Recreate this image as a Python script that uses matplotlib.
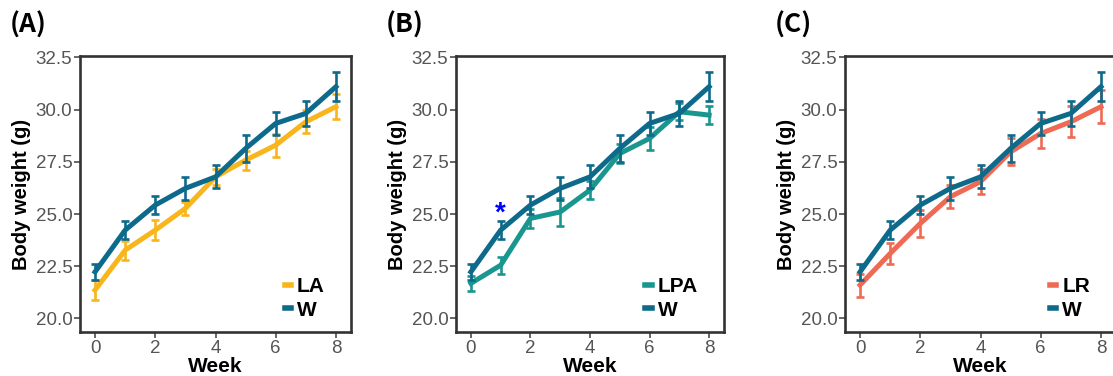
import matplotlib
matplotlib.use("Agg")
import matplotlib.pyplot as plt
from matplotlib.lines import Line2D

weeks = [0, 1, 2, 3, 4, 5, 6, 7, 8]

w_mean = [22.23, 24.23, 25.43, 26.23, 26.78, 28.14, 29.34, 29.82, 31.10]
w_err = [0.40, 0.42, 0.45, 0.55, 0.55, 0.65, 0.55, 0.60, 0.70]

la_mean = [21.36, 23.27, 24.23, 25.27, 26.78, 27.58, 28.30, 29.42, 30.14]
la_err = [0.50, 0.45, 0.48, 0.30, 0.40, 0.45, 0.55, 0.55, 0.60]

lpa_mean = [21.68, 22.55, 24.79, 25.10, 26.15, 27.90, 28.62, 29.90, 29.74]
lpa_err = [0.35, 0.40, 0.45, 0.65, 0.45, 0.45, 0.55, 0.40, 0.45]

lr_mean = [21.60, 23.11, 24.55, 25.83, 26.55, 27.98, 28.86, 29.42, 30.14]
lr_err = [0.55, 0.50, 0.65, 0.55, 0.60, 0.65, 0.70, 0.75, 0.80]

panel_labels = ["(A)", "(B)", "(C)"]
group_names = ["LA", "LPA", "LR"]
yticks = [20.0, 22.5, 25.0, 27.5, 30.0, 32.5]
xticks = [0, 2, 4, 6, 8]

star_week = 1
star_value = 25.33

c_w = "#0E6A8B"
group_colors = ["#F8B51C", "#19968F", "#EE6A55"]
groups = [(la_mean, la_err), (lpa_mean, lpa_err), (lr_mean, lr_err)]

plt.rcParams['font.family'] = ['Liberation Sans', 'DejaVu Sans']

fig = plt.figure(figsize=(11.13, 3.76), dpi=100)
W, H = 1113, 376
lefts = [80, 456, 845]
widths = [271, 268, 271]
top, bottom = 56, 332

for i in range(3):
    ax = fig.add_axes([lefts[i] / W, (H - bottom) / H, widths[i] / W, (bottom - top) / H])
    m, e = groups[i]
    ax.errorbar(weeks, m, yerr=e, color=group_colors[i], lw=3.6, elinewidth=1.9,
                capsize=3, capthick=1.9, zorder=2)
    ax.errorbar(weeks, w_mean, yerr=w_err, color=c_w, lw=3.6, elinewidth=1.9,
                capsize=3, capthick=1.9, zorder=3)
    ax.set_xlim(-0.5, 8.5)
    ax.set_ylim(19.35, 32.57)
    ax.set_xticks(xticks)
    ax.set_yticks(yticks)
    ax.set_yticklabels([f"{v:.1f}" for v in yticks])
    ax.tick_params(axis='both', colors='#4D4D4D', labelsize=13.5, length=4, width=1.2,
                   labelcolor='#555555', pad=1.5)
    for s in ax.spines.values():
        s.set_color('#333333')
        s.set_linewidth(1.9)
    ax.set_xlabel("Week", fontsize=15, fontweight='bold', labelpad=0)
    ax.set_ylabel("Body weight (g)", fontsize=14.5, fontweight='bold', labelpad=3)
    hs = [Line2D([0], [0], color=group_colors[i], lw=4), Line2D([0], [0], color=c_w, lw=4)]
    ax.legend(hs, [group_names[i], "W"], loc='lower right', bbox_to_anchor=(0.95, 0.0),
              frameon=False, handlelength=0.3, handletextpad=0.3, labelspacing=0.2,
              borderaxespad=0.2, prop={'weight': 'bold', 'size': 15})
    fig.text((lefts[i] - 70) / W, 1 - 25 / H, panel_labels[i], fontsize=19, fontweight='bold',
             family=['Noto Sans CJK KR', 'DejaVu Sans'], va='center', ha='left')
    if i == 1:
        ax.annotate("*", (star_week, star_value), xytext=(0, -5), textcoords='offset points',
                    color='#0000FF', fontsize=20, fontweight='bold', ha='center', va='center')

fig.savefig("out.png", dpi=100)
